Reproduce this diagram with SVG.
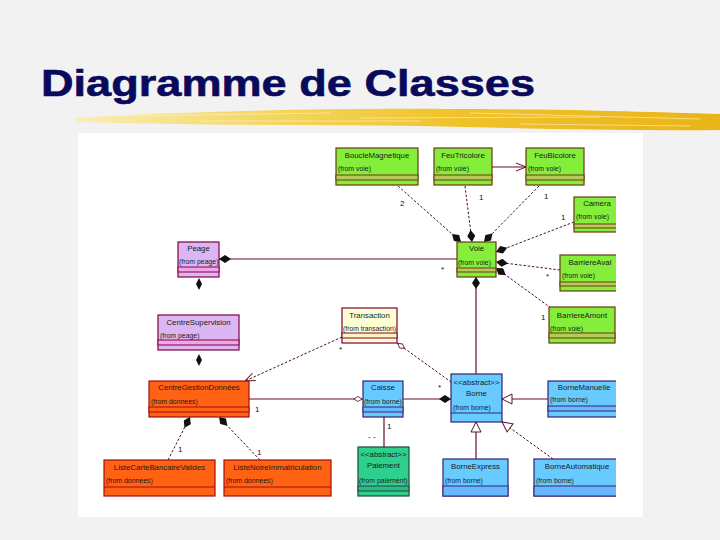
<svg xmlns="http://www.w3.org/2000/svg" width="720" height="540" viewBox="0 0 720 540">
<style>
.nm{font-family:"Liberation Sans",Arial,sans-serif;font-size:7.8px;fill:#1a1a1a;text-anchor:middle}
.fr{font-family:"Liberation Sans",Arial,sans-serif;font-size:6.9px;fill:#1a1a1a}
.ml{font-family:"Liberation Sans",Arial,sans-serif;font-size:8px;fill:#111}
.green{fill:#84ee3a;stroke:#6a3a10;stroke-width:1.2}
.gc{fill:#b9c85a;stroke:#6a3a10;stroke-width:1}
.lav{fill:#dcb6f2;stroke:#800040;stroke-width:1.2}
.lc{fill:#f0a6e6;stroke:#800040;stroke-width:1}
.cream{fill:#ffffd6;stroke:#800030;stroke-width:1.2}
.cc{fill:#fff3c0;stroke:#800030;stroke-width:1}
.orange{fill:#ff6212;stroke:#a01010;stroke-width:1.2}
.oc{fill:#ff6212;stroke:#a01010;stroke-width:1}
.blue{fill:#68cbff;stroke:#3a2070;stroke-width:1.2}
.bc{fill:#68b8ff;stroke:#3a2070;stroke-width:1}
.teal{fill:#2fd08e;stroke:#1c4a38;stroke-width:1.2}
.tc{fill:#2fb888;stroke:#1c4a38;stroke-width:1}
.sol{fill:none;stroke:#6a0a30;stroke-width:1.2}
.dash{fill:none;stroke:#4a1028;stroke-width:1;stroke-dasharray:2.5,1.8}
</style>
<defs>
<linearGradient id="brush" x1="0" y1="0" x2="1" y2="0">
<stop offset="0" stop-color="#faeeb8"/>
<stop offset="0.3" stop-color="#f4d660"/>
<stop offset="0.6" stop-color="#f0c22a"/>
<stop offset="1" stop-color="#eab418"/>
</linearGradient>
<clipPath id="clip"><rect x="78" y="133" width="538" height="384"/></clipPath>
<marker id="dia" viewBox="0 0 12 8" refX="12" refY="4" markerWidth="12" markerHeight="8" markerUnits="userSpaceOnUse" orient="auto-start-reverse">
<path d="M0,4 L6,0 L12,4 L6,8 Z" fill="#111"/>
</marker>
<marker id="odia" viewBox="0 0 12 8" refX="12" refY="4" markerWidth="10" markerHeight="7" markerUnits="userSpaceOnUse" orient="auto-start-reverse">
<path d="M1,4 L6,1 L11,4 L6,7 Z" fill="#fff" stroke="#6a0a30" stroke-width="1"/>
</marker>
<marker id="tri" viewBox="0 0 12 12" refX="11" refY="6" markerWidth="12" markerHeight="12" markerUnits="userSpaceOnUse" orient="auto">
<path d="M1,1 L11,6 L1,11 Z" fill="#fff" stroke="#5a1030" stroke-width="1"/>
</marker>
<marker id="vee" viewBox="0 0 10 10" refX="10" refY="5" markerWidth="10" markerHeight="10" markerUnits="userSpaceOnUse" orient="auto">
<path d="M0,1 L10,5 L0,9" fill="none" stroke="#5a1030" stroke-width="1"/>
</marker>
</defs>
<rect x="0" y="0" width="720" height="540" fill="#f2f2f2"/>
<g id="title">
<text x="41" y="96" font-family="'Liberation Sans',Arial,sans-serif" font-weight="bold" font-size="37" fill="#0a0a5c" stroke="#0a0a5c" stroke-width="0.6" textLength="494" lengthAdjust="spacingAndGlyphs">Diagramme de Classes</text>
<path d="M74,118 C150,113 300,108 450,109 C560,109 650,112 720,114 L720,130 C620,131 520,128 420,126 C300,125 180,125 78,122 Z" fill="url(#brush)"/>
<path d="M120,116 L330,113 M360,118 L600,117 M200,121 L420,121 M470,113 L700,119 M520,124 L690,126" stroke="#fff4c8" stroke-width="1" opacity="0.6"/>
</g>
<rect x="78" y="133" width="565" height="384" fill="#ffffff"/>
<g id="connectors">
<line class="dash" x1="398" y1="186" x2="461" y2="242" marker-end="url(#dia)"/>
<line class="dash" x1="465" y1="186" x2="472" y2="242" marker-end="url(#dia)"/>
<line class="dash" x1="539" y1="186" x2="484" y2="242" marker-end="url(#dia)"/>
<line class="sol" x1="492" y1="167" x2="526" y2="167" marker-end="url(#vee)"/>
<line class="dash" x1="574" y1="222" x2="496" y2="252" marker-end="url(#dia)"/>
<line class="dash" x1="560" y1="270" x2="496" y2="262" marker-end="url(#dia)"/>
<line class="dash" x1="551" y1="308" x2="496" y2="268" marker-end="url(#dia)"/>
<line class="sol" x1="219" y1="259" x2="457" y2="259" marker-start="url(#dia)"/>
<path d="M199,278 L202,284 L199,290 L196,284 Z" fill="#111"/>
<path d="M199,354 L202,360 L199,366 L196,360 Z" fill="#111"/>
<line class="dash" x1="342" y1="337" x2="245" y2="381" marker-end="url(#vee)"/>
<line class="dash" x1="397" y1="343" x2="451" y2="382" marker-start="url(#odia)"/>
<line class="sol" x1="476" y1="277" x2="476" y2="374" marker-start="url(#dia)"/>
<line class="sol" x1="249" y1="399" x2="363" y2="399" marker-end="url(#odia)"/>
<line class="sol" x1="403" y1="399" x2="451" y2="399" marker-end="url(#dia)"/>
<line class="sol" x1="384" y1="417" x2="384" y2="447"/>
<line class="sol" x1="548" y1="399" x2="502" y2="399" marker-end="url(#tri)"/>
<line class="sol" x1="476" y1="459" x2="476" y2="422" marker-end="url(#tri)"/>
<line class="dash" x1="553" y1="459" x2="502" y2="422" marker-end="url(#tri)"/>
<line class="dash" x1="168" y1="460" x2="190" y2="417" marker-end="url(#dia)"/>
<line class="dash" x1="260" y1="460" x2="219" y2="417" marker-end="url(#dia)"/>
<text class="ml" x="400" y="206">2</text>
<text class="ml" x="479" y="200">1</text>
<text class="ml" x="544" y="199">1</text>
<text class="ml" x="561" y="220">1</text>
<text class="ml" x="546" y="279">*</text>
<text class="ml" x="541" y="320">1</text>
<text class="ml" x="441" y="272">*</text>
<text class="ml" x="339" y="352">*</text>
<text class="ml" x="438" y="390">*</text>
<text class="ml" x="255" y="412">1</text>
<text class="ml" x="387" y="429">1</text>
<text class="ml" x="368" y="439">- -</text>
<text class="ml" x="178" y="452">1</text>
<text class="ml" x="257" y="455">1</text>
</g>
<g id="nodes" clip-path="url(#clip)">
<g id="boucleMagnetique">
<rect class="green" x="336" y="148" width="82" height="37"/>
<rect class="gc" x="336" y="175" width="82" height="5"/>
<text class="nm" x="377" y="158">BoucleMagnetique</text>
<text class="fr" x="338" y="171">(from voie)</text>
</g>
<g id="feuTricolore">
<rect class="green" x="434" y="148" width="58" height="37"/>
<rect class="gc" x="434" y="175" width="58" height="5"/>
<text class="nm" x="463" y="158">FeuTricolore</text>
<text class="fr" x="436" y="171">(from voie)</text>
</g>
<g id="feuBicolore">
<rect class="green" x="526" y="148" width="58" height="37"/>
<rect class="gc" x="526" y="175" width="58" height="5"/>
<text class="nm" x="555" y="158">FeuBicolore</text>
<text class="fr" x="528" y="171">(from voie)</text>
</g>
<g id="camera">
<rect class="green" x="574" y="197" width="46" height="35"/>
<rect class="gc" x="574" y="224" width="46" height="4"/>
<text class="nm" x="597" y="206">Camera</text>
<text class="fr" x="576" y="219">(from voie)</text>
</g>
<g id="voie">
<rect class="green" x="457" y="242" width="39" height="35"/>
<rect class="gc" x="457" y="268" width="39" height="4"/>
<text class="nm" x="476.5" y="251">Voie</text>
<text class="fr" x="458" y="265">(from voie)</text>
</g>
<g id="barriereAval">
<rect class="green" x="560" y="255" width="60" height="36"/>
<rect class="gc" x="560" y="282" width="60" height="4"/>
<text class="nm" x="590" y="265">BarriereAval</text>
<text class="fr" x="562" y="278">(from voie)</text>
</g>
<g id="barriereAmont">
<rect class="green" x="549" y="307" width="66" height="36"/>
<rect class="gc" x="549" y="333" width="66" height="5"/>
<text class="nm" x="582" y="318">BarriereAmont</text>
<text class="fr" x="550" y="331">(from voie)</text>
</g>
<g id="peage">
<rect class="lav" x="178" y="242" width="41" height="35"/>
<rect class="lc" x="178" y="267" width="41" height="5"/>
<text class="nm" x="198.5" y="251">Peage</text>
<text class="fr" x="179" y="264">(from peage)</text>
</g>
<g id="centreSupervision">
<rect class="lav" x="158" y="315" width="81" height="35"/>
<rect class="lc" x="158" y="340" width="81" height="5"/>
<text class="nm" x="198.5" y="325">CentreSupervision</text>
<text class="fr" x="160" y="338">(from peage)</text>
</g>
<g id="transaction">
<rect class="cream" x="342" y="308" width="55" height="35"/>
<rect class="cc" x="342" y="333" width="55" height="5"/>
<text class="nm" x="369.5" y="318">Transaction</text>
<text class="fr" x="343" y="331" textLength="53" lengthAdjust="spacingAndGlyphs">(from transaction)</text>
</g>
<g id="centreGestionDonnees">
<rect class="orange" x="149" y="381" width="100" height="36"/>
<rect class="oc" x="149" y="407" width="100" height="5"/>
<text class="nm" x="199" y="390">CentreGestionDonnées</text>
<text class="fr" x="151" y="404">(from donnees)</text>
</g>
<g id="caisse">
<rect class="blue" x="363" y="381" width="40" height="36"/>
<rect class="bc" x="363" y="407" width="40" height="5"/>
<text class="nm" x="383" y="390">Caisse</text>
<text class="fr" x="364" y="404">(from borne)</text>
</g>
<g id="borne">
<rect class="blue" x="451" y="374" width="51" height="48"/>
<line x1="451" y1="413" x2="502" y2="413" stroke="#3a2070" stroke-width="1"/>
<text class="nm" x="476.5" y="385">&lt;&lt;abstract&gt;&gt;</text>
<text class="nm" x="476.5" y="396">Borne</text>
<text class="fr" x="453" y="410">(from borne)</text>
</g>
<g id="borneManuelle">
<rect class="blue" x="548" y="381" width="72" height="36"/>
<rect class="bc" x="548" y="406" width="72" height="5"/>
<text class="nm" x="584" y="390">BorneManuelle</text>
<text class="fr" x="550" y="402">(from borne)</text>
</g>
<g id="paiement">
<rect class="teal" x="358" y="447" width="51" height="49"/>
<rect class="tc" x="358" y="486" width="51" height="5"/>
<text class="nm" x="383.5" y="457">&lt;&lt;abstract&gt;&gt;</text>
<text class="nm" x="383.5" y="468">Paiement</text>
<text class="fr" x="359" y="483">(from paiement)</text>
</g>
<g id="borneExpress">
<rect class="blue" x="443" y="459" width="65" height="37"/>
<rect class="bc" x="443" y="486" width="65" height="10"/>
<text class="nm" x="475.5" y="469">BorneExpress</text>
<text class="fr" x="445" y="483">(from borne)</text>
</g>
<g id="borneAutomatique">
<rect class="blue" x="534" y="459" width="86" height="37"/>
<rect class="bc" x="534" y="486" width="86" height="10"/>
<text class="nm" x="577" y="469">BorneAutomatique</text>
<text class="fr" x="536" y="483">(from borne)</text>
</g>
<g id="listeCarteBancaireValides">
<rect class="orange" x="104" y="460" width="111" height="36"/>
<line x1="104" y1="487" x2="215" y2="487" stroke="#a01010" stroke-width="1"/>
<text class="nm" x="159.5" y="470">ListeCarteBancaireValides</text>
<text class="fr" x="106" y="483">(from donnees)</text>
</g>
<g id="listeNoireImmatriculation">
<rect class="orange" x="224" y="460" width="107" height="36"/>
<line x1="224" y1="487" x2="331" y2="487" stroke="#a01010" stroke-width="1"/>
<text class="nm" x="277.5" y="470">ListeNoireImmatriculation</text>
<text class="fr" x="226" y="483">(from donnees)</text>
</g>
</g>
</svg>
